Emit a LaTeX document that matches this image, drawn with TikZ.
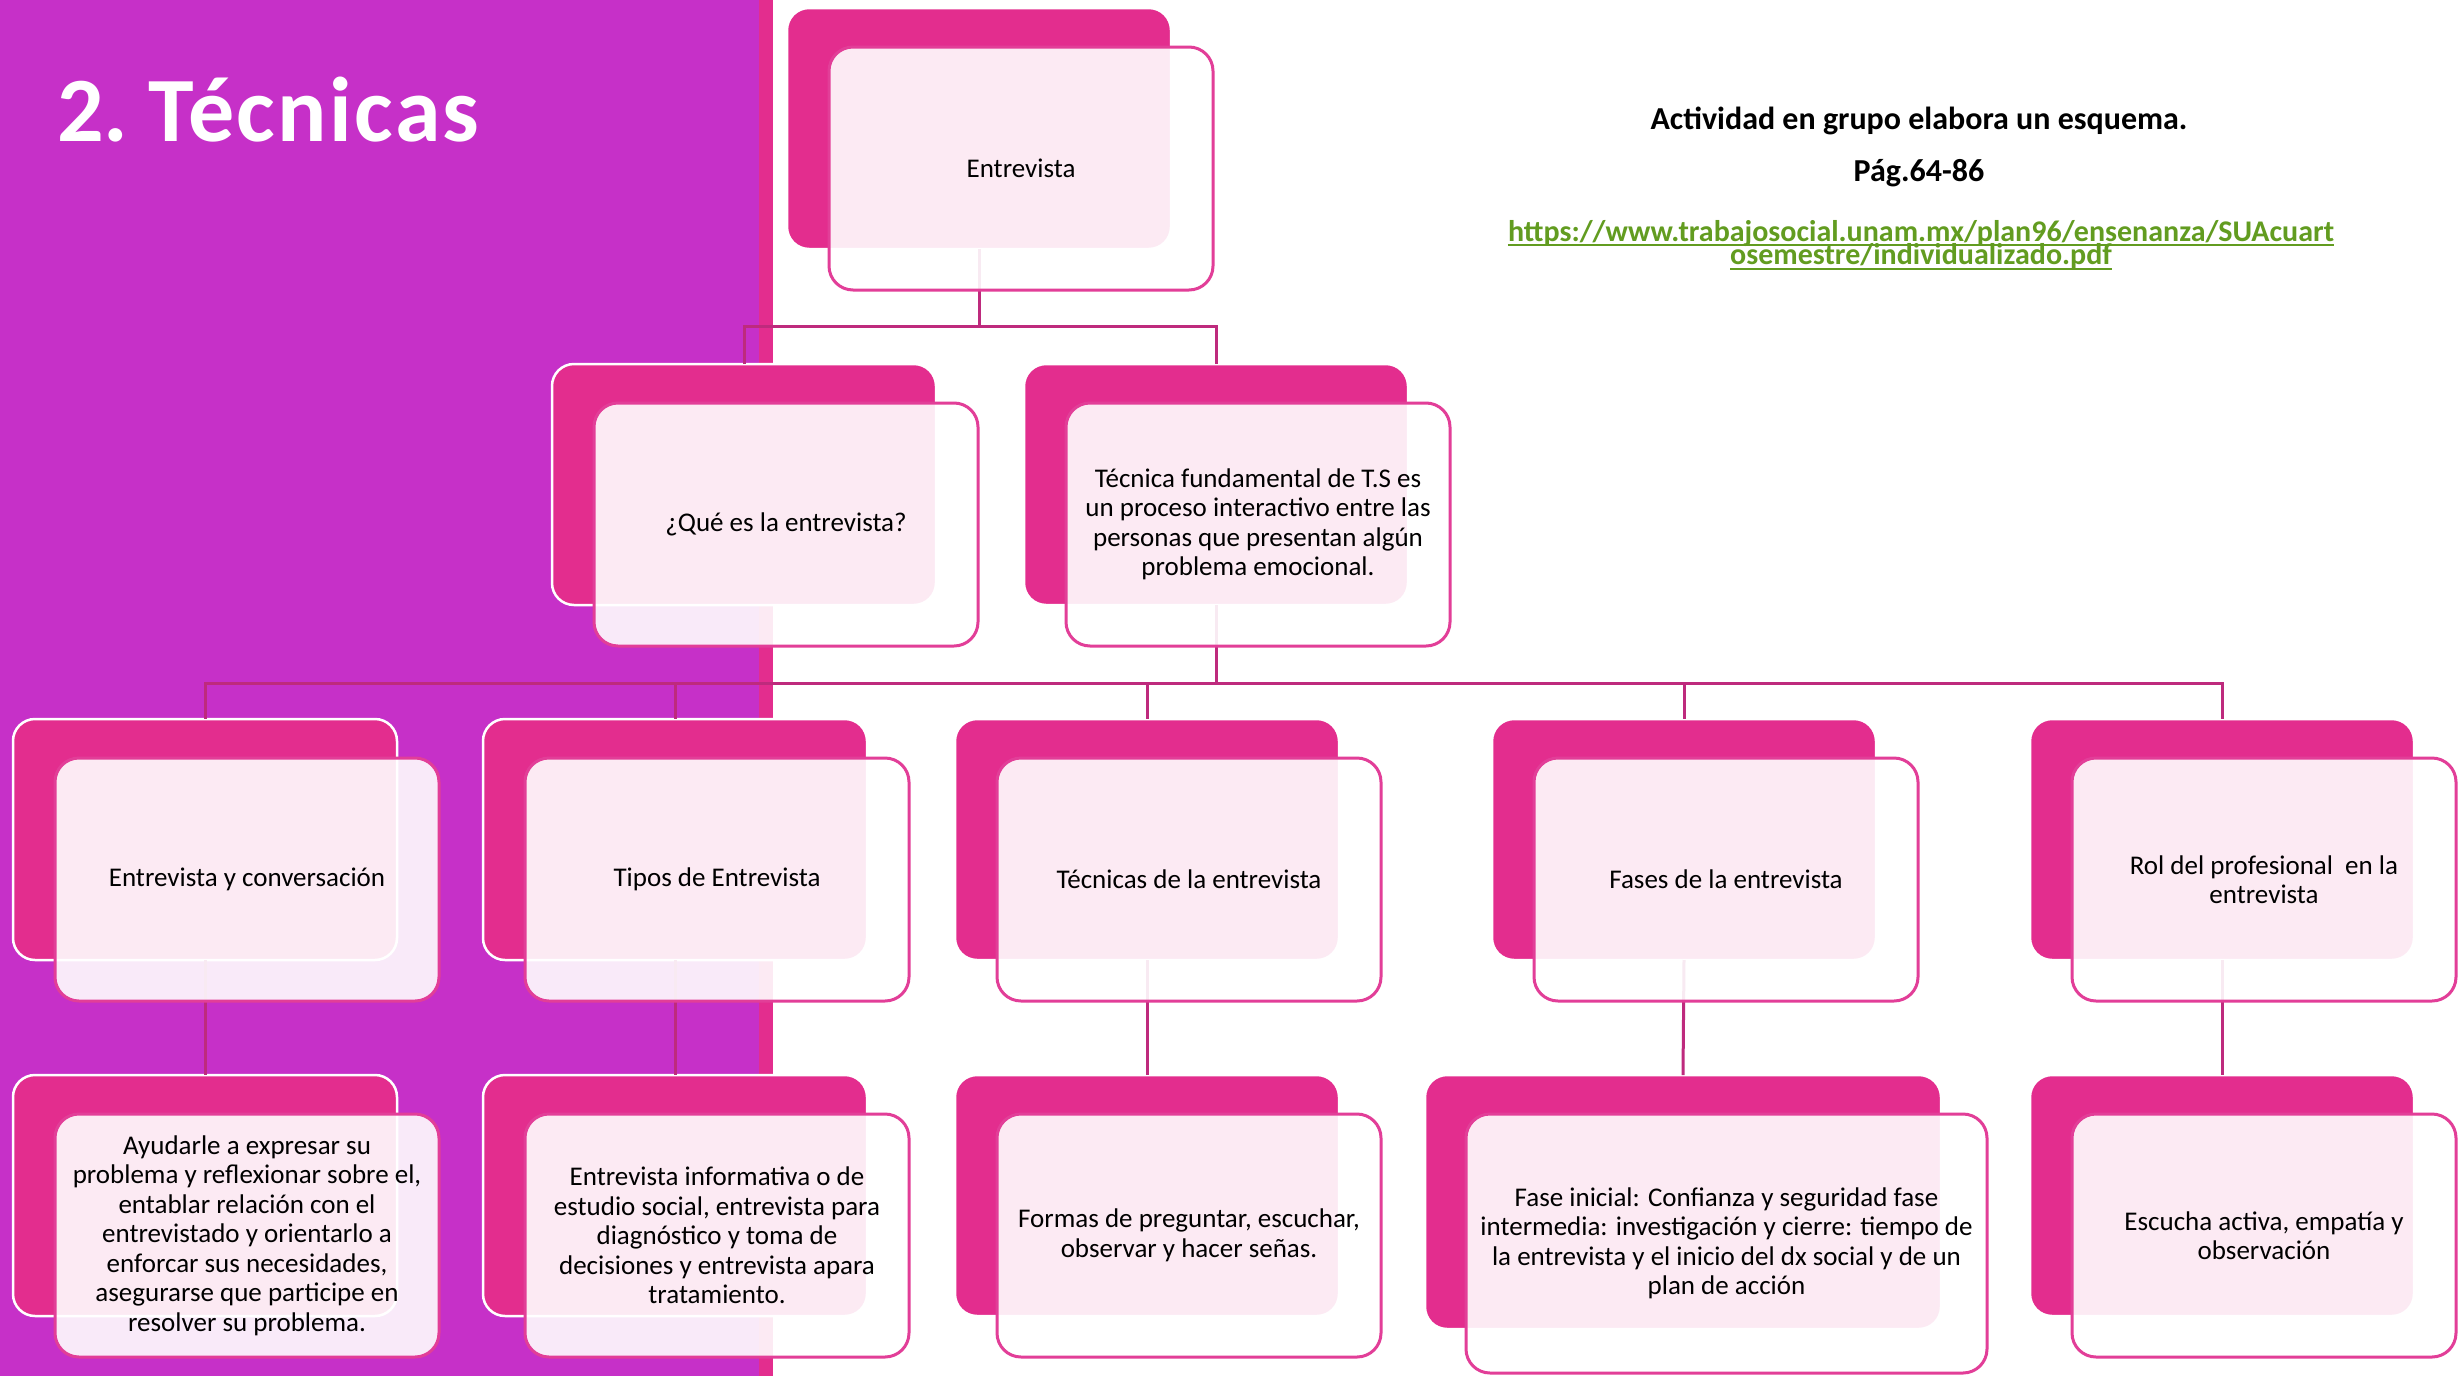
\documentclass[tikz,border=0pt]{standalone}
\usepackage{fontspec}
\setmainfont{Carlito}
\definecolor{bgpurple}{RGB}{198,48,200}
\definecolor{mag}{RGB}{227,45,142}
\definecolor{fborder}{RGB}{226,62,152}
\definecolor{conn}{RGB}{190,42,125}
\definecolor{urlgreen}{RGB}{98,156,32}
\begin{document}
\begin{tikzpicture}[x=1pt,y=-1pt,
  backbox/.style={draw=white, line width=2.5pt, fill=mag, rounded corners=22pt,
    minimum width=384pt, minimum height=241pt, inner sep=0pt, outer sep=0pt, anchor=north west},
  frontbox/.style={draw=fborder, line width=3pt, fill=white, fill opacity=0.9, text opacity=1,
    rounded corners=24pt, minimum width=384pt, minimum height=243pt, inner sep=0pt, outer sep=0pt,
    anchor=north west, align=center, text=black, font=\fontsize{27}{29.5}\selectfont},
  conn/.style={draw=conn, line width=3pt},
  hdr/.style={anchor=base, inner sep=0pt, font=\fontsize{32}{36}\selectfont\bfseries},
  urltxt/.style={anchor=base, inner sep=0pt, text=urlgreen, font=\fontsize{30}{24}\selectfont\bfseries}
]
\useasboundingbox (0,0) rectangle (2458,1376);
\fill[white] (0,0) rectangle (2458,1376);
\fill[bgpurple] (0,0) rectangle (759,1376);
\fill[mag] (759,0) rectangle (773,1376);

% title and header
\node[anchor=base west, inner sep=0pt, text=white, font=\fontsize{92}{100}\selectfont\bfseries] (title) at (57,141) {2.\hspace{20pt}{\addfontfeature{LetterSpace=2.6}Técnicas}};
\node[hdr] (h1) at (1919,129) {Actividad en grupo elabora un esquema.};
\node[hdr] (h2) at (1919,181) {Pág.64-86};
\node[urltxt] (u1) at (1921,241) {https://www.trabajosocial.unam.mx/plan96/ensenanza/SUAcuart};
\node[urltxt] (u2) at (1921,264) {osemestre/individualizado.pdf};
\draw[urlgreen, line width=2pt] ([yshift=-4pt]u1.base west) -- ([yshift=-4pt]u1.base east);
\draw[urlgreen, line width=2pt] ([yshift=-5pt]u2.base west) -- ([yshift=-5pt]u2.base east);

% back boxes
\node[backbox] (b0) at (787,8) {};
\node[backbox] (b1) at (552,364) {};
\node[backbox] (b2) at (1024,364) {};
\node[backbox] (b31) at (13,719) {};
\node[backbox] (b32) at (483,719) {};
\node[backbox] (b33) at (955,719) {};
\node[backbox] (b34) at (1492,719) {};
\node[backbox] (b35) at (2030,719) {};
\node[backbox] (b41) at (13,1075) {};
\node[backbox] (b42) at (483,1075) {};
\node[backbox] (b43) at (955,1075) {};
\node[backbox, minimum width=516pt, minimum height=254pt] (b44) at (1425,1075) {};
\node[backbox] (b45) at (2030,1075) {};

% connectors
\draw[conn] (b0.south) -- ++(0,77) -| (b1.north);
\draw[conn] (b0.south) -- ++(0,77) -| (b2.north);
\foreach \c in {b31,b32,b33,b34,b35}{
  \draw[conn] (b2.south) -- ++(0,78) -| (\c.north);
}
\draw[conn] (b31.south) -- (b41.north);
\draw[conn] (b32.south) -- (b42.north);
\draw[conn] (b33.south) -- (b43.north);
\draw[conn] (b34.south) -- (b44.north);
\draw[conn] (b35.south) -- (b45.north);

% front boxes
\node[frontbox] (f0) at ([xshift=42pt,yshift=-39pt]b0.north west) {Entrevista};
\node[frontbox] (f1) at ([xshift=42pt,yshift=-39pt]b1.north west) {¿Qué es la entrevista?};
\node[frontbox] (f2) at ([xshift=42pt,yshift=-39pt]b2.north west) {Técnica fundamental de T.S es\\un proceso interactivo entre las\\personas que presentan algún\\problema emocional.};
\node[frontbox] (f31) at ([xshift=42pt,yshift=-39pt]b31.north west) {Entrevista y conversación};
\node[frontbox] (f32) at ([xshift=42pt,yshift=-39pt]b32.north west) {Tipos de Entrevista};
\node[frontbox] (f33) at ([xshift=42pt,yshift=-39pt]b33.north west) {Técnicas de la entrevista};
\node[frontbox] (f34) at ([xshift=42pt,yshift=-39pt]b34.north west) {Fases de la entrevista};
\node[frontbox] (f35) at ([xshift=42pt,yshift=-39pt]b35.north west) {Rol del profesional \ en la\\entrevista};
\node[frontbox] (f41) at ([xshift=42pt,yshift=-39pt]b41.north west) {Ayudarle a expresar su\\problema y reflexionar sobre el,\\entablar relación con el\\entrevistado y orientarlo a\\enforcar sus necesidades,\\asegurarse que participe en\\resolver su problema.};
\node[frontbox] (f42) at ([xshift=42pt,yshift=-39pt]b42.north west) {Entrevista informativa o de\\estudio social, entrevista para\\diagnóstico y toma de\\decisiones y entrevista apara\\tratamiento.};
\node[frontbox] (f43) at ([xshift=42pt,yshift=-39pt]b43.north west) {Formas de preguntar, escuchar,\\observar y hacer señas.};
\node[frontbox, minimum width=521pt, minimum height=259pt] (f44) at ([xshift=41pt,yshift=-39pt]b44.north west) {Fase inicial: Confianza y seguridad fase\\intermedia: investigación y cierre: tiempo de\\la entrevista y el inicio del dx social y de un\\plan de acción};
\node[frontbox] (f45) at ([xshift=42pt,yshift=-39pt]b45.north west) {Escucha activa, empatía y\\observación};
\end{tikzpicture}
\end{document}
